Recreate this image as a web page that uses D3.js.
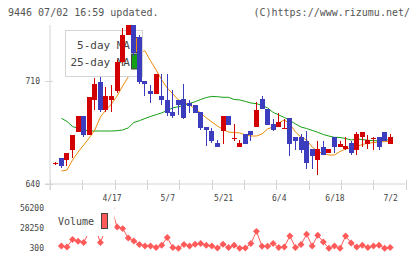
<!DOCTYPE html>
<html>
<head>
<meta charset="utf-8">
<script src="https://cdn.jsdelivr.net/npm/d3@7"></script>
<style>
  body { margin: 0; background: #fff; }
  text { font-family: "DejaVu Sans Mono", monospace; }
</style>
</head>
<body>
<script>

// trading days shown on the chart
var dates = ["4/3","4/6","4/7","4/8","4/9","4/10","4/13","4/14","4/15","4/16","4/17",
    "4/20","4/21","4/22","4/23","4/24","4/27","4/28","4/30","5/1","5/7",
    "5/8","5/11","5/12","5/13","5/14","5/15","5/18","5/19","5/20","5/21",
    "5/22","5/25","5/26","5/27","5/28","5/29","6/1","6/2","6/3","6/4",
    "6/5","6/8","6/9","6/10","6/11","6/12","6/15","6/16","6/17","6/18",
    "6/19","6/22","6/23","6/24","6/25","6/26","6/29","6/30","7/1","7/2"];

var open  = [654,658,656,663,675,686,673,697,709.5,690,697,
    703,723,741,748,740,710,703,701,700,697,
    689,697,698,695,694,689,679,676,668,676,
    686,671,665,674,676,679,698,691,681,679,
    678,685,672,672,669,664,656,665,661,672,
    665,664,668,663,672,667,671,672,675,667];

var high  = [655,658,661,673,686,686,699,712,712.5,706,707,
    724,746,748,748,741,710,707,715,715,715,
    704,697,708,697,694,689,679,678,670,686,
    686,681,670,674,676,696,700,691,684,688,
    684,685,672,674,676,664,669,669,664,672,
    669,672,669,675,675,673,672,672,675,674];

var low   = [653,651,652,658,675,672,673,690,689,689,689,
    702,722,741,727,708,700,695,701,694,686,
    685,687,684,688,688,677,666,668,665,667,
    680,669,665,667,669,679,691,680,676,679,
    678,659,663,661,650,650,646,660,661,661,
    665,663,660,660,665,664,663,663,669,667];

var close = [654.3,652,661,673,686,673,699,708,690,700,700,
    723,741,748,729,709,708,701,715,697,688,
    686,694,685,693,688,678,677,669,665,686,
    680,671.3,668,667,673,690,691,680,677,682,
    678.3,667,669,663,654,659,664,660,664,665,
    667,666,661,674,675,670,671.3,665,669,672];

var ma5 = [null,648.8,649.5,656.3,661.7,666.5,671.3,676.7,685.5,690.3,694.4,
    699.8,706.6,712.7,722.2,729.7,730.4,723.6,717.5,710.7,705.2,
    701.2,697.1,695.7,693.7,691,688.3,684.9,682.1,679.4,677,
    675.3,674.9,674.7,673.3,672.6,672.6,674,677.4,678.7,681.5,
    683.5,680.8,675.3,671.9,669.9,665.1,662.1,660.7,659.7,659.7,
    662.1,663.8,664.5,665.5,666.8,667.7,668.1,668.6,668.8,669.2];

var ma25 = [null,684.7,682.5,679.1,677.7,676.7,676,676,676,676,676,
    676.2,676.7,678.1,681.8,683,684.5,685.9,687.1,688.3,690,
    691.7,692.5,693.3,694.7,695.9,697.4,698.7,699.5,699.3,698.9,
    698.9,697.4,697.1,696.1,695,694.6,693.3,691.7,688.6,686.9,
    685.2,683.2,680.8,678.7,677.7,676.4,675.1,673.6,672.6,671.7,
    671.6,670.9,669.9,670.4,670.2,669.7,669.4,669.4,669.9,670];

var volume = [null,3500,2100,12500,10100,8300,24000,31000,8300,28000,56200,
    30000,27800,14700,10500,5500,3500,3500,1300,4500,15300,
    1300,300,5500,3500,5900,6900,4500,3500,700,5900,
    1300,4500,300,700,6900,24000,3100,3100,6900,1300,
    2100,17500,1300,5500,19900,3500,18500,9100,300,3500,
    300,17500,7700,2100,4500,1300,3500,4500,300,1300];

var priceTicks = [640, 710],
    volumeTicks = [300, 28250, 56200],
    dateTicks = ["4/17","5/7","5/21","6/4","6/18","7/2"];



var
    svg = d3.select("body")
        .append("svg")
            .attr("width", 420)
            .attr("height", 259),

    x = d3.scalePoint().domain(dates).range([55.8, 390.2]),
    grid = d3.scaleLinear().domain([0, 11]).range([50, 405.5]),
    y = d3.scaleLinear().domain([640, 748]).range([184, 25]),
    yv = d3.scaleLinear().domain([300, 56200]).range([248.3, 208.3]),

    red = "#d20000",
    blue = "#3c3cbe",
    axisColor = "#d4d4d4",
    textColor = "#444";


var rows = dates.map(function(d, i) {
    return { date: d, o: open[i], h: high[i], l: low[i], c: close[i],
             m5: ma5[i], m25: ma25[i], v: volume[i] };
});


// header texts
svg.append("text")
    .attr("x", 8).attr("y", 12.5)
    .attr("dominant-baseline", "middle")
    .attr("font-size", 10).attr("fill", "#555")
    .text("9446 07/02 16:59 updated.");

svg.append("text")
    .attr("x", 410).attr("y", 12.5)
    .attr("text-anchor", "end")
    .attr("dominant-baseline", "middle")
    .attr("font-size", 10).attr("fill", "#555")
    .text("(C)https://www.rizumu.net/");


// axes
var yAxis = svg.append("g")
    .attr("transform", "translate(50,0)")
    .call(d3.axisLeft(y).tickValues(priceTicks).tickSize(5).tickSizeOuter(0));

yAxis.select(".domain").attr("d", "M0,25V190").attr("stroke", axisColor);
yAxis.selectAll(".tick line").attr("x1", 3).attr("x2", -5).attr("stroke", axisColor);
yAxis.selectAll(".tick text")
    .attr("x", -10).attr("dy", "0.32em")
    .attr("font-size", 8).attr("font-family", "DejaVu Sans Mono")
    .attr("fill", textColor);

svg.append("line")
    .attr("x1", 45).attr("x2", 405.5)
    .attr("y1", 184).attr("y2", 184)
    .attr("stroke", axisColor);

svg.append("g").selectAll("line")
    .data(d3.range(12))
    .join("line")
        .attr("x1", function(d) { return Math.round(grid(d)) + 0.5; })
        .attr("x2", function(d) { return Math.round(grid(d)) + 0.5; })
        .attr("y1", 180).attr("y2", 190)
        .attr("stroke", axisColor);

var xAxis = svg.append("g")
    .attr("transform", "translate(0,192)")
    .call(d3.axisBottom(x).tickValues(dateTicks).tickSize(0));

xAxis.select(".domain").remove();
xAxis.selectAll(".tick text")
    .attr("y", 6).attr("dy", "0.32em")
    .attr("font-size", 8).attr("font-family", "DejaVu Sans Mono")
    .attr("fill", textColor);


// moving averages
var lineOf = function(key) {
    return d3.line()
        .defined(function(d) { return d[key] != null; })
        .x(function(d) { return x(d.date); })
        .y(function(d) { return y(d[key]); });
};

svg.append("path").datum(rows)
    .attr("d", lineOf("m25"))
    .attr("fill", "none").attr("stroke", "#14a014").attr("stroke-width", 1);

svg.append("path").datum(rows)
    .attr("d", lineOf("m5"))
    .attr("fill", "none").attr("stroke", "#f08c0a").attr("stroke-width", 1);


// price legend (candles are drawn over it)
var legend = svg.append("g");

legend.append("rect")
    .attr("x", 65.5).attr("y", 30.5).attr("width", 77).attr("height", 46)
    .attr("fill", "#fff").attr("stroke", axisColor);

legend.selectAll("text")
    .data(["5-day MA", "25-day MA"])
    .join("text")
        .attr("x", 130).attr("y", function(d, i) { return 46 + i * 16.5; })
        .attr("text-anchor", "end").attr("dominant-baseline", "middle")
        .attr("font-size", 11).attr("fill", textColor)
        .text(function(d) { return d; });

legend.selectAll("rect.swatch")
    .data(["#f08c0a", "#14a014"])
    .join("rect")
        .attr("class", "swatch")
        .attr("x", 131.5).attr("y", function(d, i) { return 37.5 + i * 16.5; })
        .attr("width", 6).attr("height", 15)
        .attr("fill", function(d) { return d; })
        .attr("stroke", "#444");


// candles
var candles = svg.append("g")
    .attr("shape-rendering", "crispEdges")
    .selectAll("g")
    .data(rows)
    .join("g")
        .attr("transform", function(d) { return "translate(" + x(d.date) + ",0)"; });

candles.append("line")
    .attr("x1", 0).attr("x2", 0)
    .attr("y1", function(d) { return y(d.h); })
    .attr("y2", function(d) { return y(d.l); })
    .attr("stroke", function(d) { return d.c >= d.o ? red : blue; });

candles.append("rect")
    .attr("x", -2.5).attr("width", 5)
    .attr("y", function(d) { return y(Math.max(d.o, d.c)); })
    .attr("height", function(d) { return Math.max(1, Math.abs(y(d.o) - y(d.c))); })
    .attr("fill", function(d) { return d.c >= d.o ? red : blue; });


// volume
var volRows = rows.filter(function(d) { return d.v != null; });

svg.append("path").datum(volRows)
    .attr("d", d3.line()
        .x(function(d) { return x(d.date); })
        .y(function(d) { return yv(d.v); }))
    .attr("fill", "none").attr("stroke", "#ff5a5a").attr("stroke-width", 1);

svg.append("g").selectAll("path")
    .data(volRows)
    .join("path")
        .attr("d", d3.symbol(d3.symbolSquare, 24))
        .attr("transform", function(d) {
            return "translate(" + x(d.date) + "," + yv(d.v) + ") rotate(45)";
        })
        .attr("fill", "#ff5a5a");

svg.append("g").selectAll("text")
    .data(volumeTicks)
    .join("text")
        .attr("x", 44).attr("y", function(d) { return yv(d); })
        .attr("text-anchor", "end").attr("dominant-baseline", "middle")
        .attr("font-size", 8).attr("fill", textColor)
        .text(function(d) { return d; });

// volume legend sits on top of the line
svg.append("rect")
    .attr("x", 55).attr("y", 204).attr("width", 59.5).attr("height", 32)
    .attr("fill", "#fff");

svg.append("text")
    .attr("x", 58).attr("y", 222)
    .attr("dominant-baseline", "middle")
    .attr("font-size", 10).attr("fill", textColor)
    .text("Volume");

svg.append("rect")
    .attr("x", 101.5).attr("y", 213.5).attr("width", 6).attr("height", 15)
    .attr("fill", "#ff5a5a").attr("stroke", "#444");

</script>
</body>
</html>
